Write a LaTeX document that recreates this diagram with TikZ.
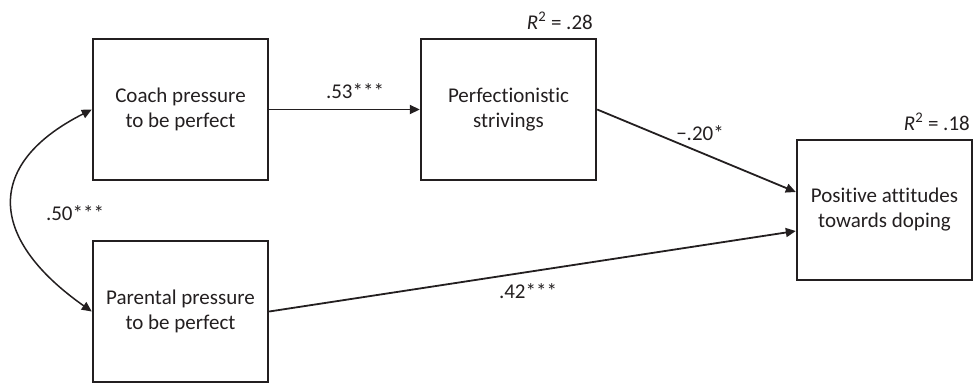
\documentclass[tikz,border=0pt]{standalone}
\usepackage{fontspec}
\setmainfont{Carlito}[Ligatures={NoCommon}]
\usetikzlibrary{arrows.meta}
\definecolor{ink}{HTML}{231F20}
\begin{document}
\begin{tikzpicture}[x=1pt,y=-1pt,
  every node/.style={text=ink,font=\fontsize{21}{25}\selectfont},
  varbox/.style={draw=ink,line width=2.4pt,minimum width=175pt,minimum height=141pt,align=center,inner sep=0pt},
  path/.style={draw=ink,line width=1.8pt,-{Triangle[length=10pt,width=9pt]}},
  covar/.style={draw=ink,line width=1.5pt,{Triangle[length=10pt,width=9pt]}-{Triangle[length=10pt,width=9pt]}},
  coef/.style={inner sep=0pt}]
\useasboundingbox (0,0) rectangle (973,384);
\node[varbox] (coach) at (180.5,109.5) {Coach pressure\\to be perfect};
\node[varbox] (perf) at (508.5,109.5) {Perfectionistic\\strivings};
\node[varbox,minimum height=140pt] (pos) at (884.5,210) {Positive attitudes\\towards doping};
\node[varbox] (par) at (180.5,311.5) {Parental pressure\\to be perfect};
\coordinate (in1) at ([yshift=18pt]pos.west);
\coordinate (in2) at ([yshift=-21pt]pos.west);
\draw[path] (coach.east) -- (perf.west);
\draw[path] (perf.east) -- (in1);
\draw[path] (par.east) -- (in2);
\draw[covar] (coach.west) .. controls (-14,163) and (-14,237) .. (par.west);
\node[coef] (l53) at (355,91) {.53***};
\node[coef] (l20) at (700,133) {−.20*};
\node[coef] (l42) at (528,291) {.42***};
\node[coef] (l50) at (75,213) {.50***};
\node[coef,anchor=east] (r28) at (593,21) {\textit{R}\textsuperscript{2} = .28};
\node[coef,anchor=east] (r18) at (970,122) {\textit{R}\textsuperscript{2} = .18};
\end{tikzpicture}
\end{document}
